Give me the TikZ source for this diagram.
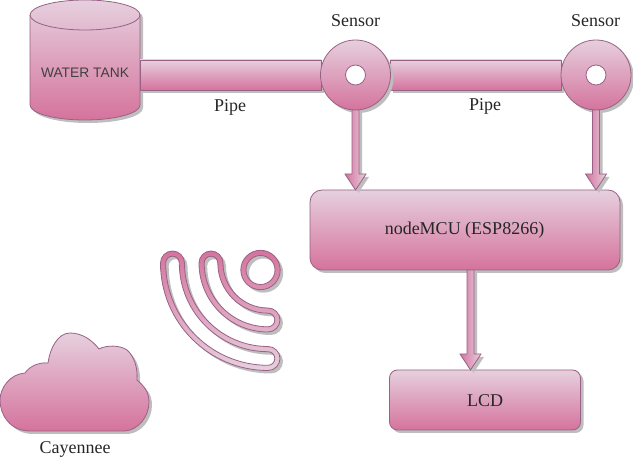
\documentclass[tikz,border=0pt]{standalone}
\usepackage{fontspec}
\setmainfont{Liberation Serif}
\newfontfamily\tanksans{Liberation Sans}
\usetikzlibrary{calc,shadows,shapes.geometric}
\definecolor{pinktop}{HTML}{E6D0DE}
\definecolor{pinkbot}{HTML}{D5739D}
\definecolor{pinkline}{HTML}{996185}
\definecolor{shadowgrey}{HTML}{BEBEBE}
\tikzset{
  x=1pt,y=1pt,
  pinkfill/.style={draw=pinkline,line width=0.8pt,top color=pinktop,bottom color=pinkbot},
  pinkflip/.style={draw=pinkline,line width=0.8pt,top color=pinkbot,bottom color=pinktop},
  pinkside/.style={draw=pinkline,line width=0.8pt,left color=pinkbot,right color=pinktop},
  sh/.style={drop shadow={shadow xshift=3pt,shadow yshift=-3pt,fill=shadowgrey,opacity=1}},
  shpath/.style={fill=shadowgrey,transform canvas={shift={(3pt,-3pt)}}},
  blockbox/.style={pinkfill,sh,rectangle,rounded corners=#1,inner sep=0pt,outer sep=0pt},
  pipebar/.style={pinkfill,sh,rectangle,inner sep=0pt,outer sep=0pt},
  sensorring/.style={pinkfill,sh,circle,minimum size=70pt,inner sep=0pt,outer sep=0pt},
  sensorhole/.style={circle,draw=pinkline,line width=0.8pt,fill=white,minimum size=20pt,inner sep=0pt,outer sep=0pt},
  lbl/.style={inner sep=0pt,font=\fontsize{18}{21}\selectfont,text=black!85},
}
\newcommand{\arrowpath}{($(A)+(-3.5,0)$) -- ($(B)+(-3.5,16)$) -- ($(B)+(-10.5,16)$) -- (B) -- ($(B)+(10.5,16)$) -- ($(B)+(3.5,16)$) -- ($(A)+(3.5,0)$) -- cycle}
\newcommand{\blockarrow}[2]{%
  \coordinate (A) at #1; \coordinate (B) at #2;
  \path[shpath] \arrowpath;
  \path[pinkside] \arrowpath;
}
\newcommand{\tube}[2]{% radius, half width
  (268-#1-#2,197) arc[start angle=180,end angle=270,radius=#1+#2]
  arc[start angle=270,end angle=450,radius=#2]
  arc[start angle=270,end angle=180,radius=#1-#2]
  arc[start angle=0,end angle=180,radius=#2] -- cycle
}
\newcommand{\signalpath}{%
  (260.5,190) circle[radius=19.7] (260.5,190) circle[radius=14.5]
  \tube{57}{12} \tube{57}{6.8}
  \tube{95.5}{12} \tube{95.5}{6.8}
}
\newcommand{\tankbody}{(30,445) -- (30,355) arc[start angle=180,end angle=360,x radius=55,y radius=15] -- (140,445) arc[start angle=0,end angle=180,x radius=55,y radius=15] -- cycle}
\newcommand{\cloudpath}{(30,29) .. controls (10,29) and (0,45) .. (0,60)
  .. controls (0,72) and (10,86) .. (25,87)
  .. controls (29,93) and (38,98) .. (48,97)
  .. controls (50,112) and (58,127) .. (70,127)
  .. controls (82,127) and (92,120) .. (99,111)
  .. controls (106,115) and (120,115) .. (127,110)
  .. controls (134,104) and (138,92) .. (137,80)
  .. controls (144,74) and (149,68) .. (149,58)
  .. controls (149,43) and (138,30) .. (125,29) -- cycle}
\begin{document}
\begin{tikzpicture}
\useasboundingbox (0,0) rectangle (633,460);
% tank
\path[shpath] \tankbody;
\path[pinkfill] \tankbody;
\draw[pinkline,line width=0.8pt] (30,445) arc[start angle=180,end angle=360,x radius=55,y radius=15];
\node[lbl,font=\tanksans\fontsize{13.8}{16}\selectfont,text=black!75] (tanklabel) at (85,387) {WATER TANK};
% pipes
\node[pipebar,minimum width=181pt,minimum height=30pt] (pipeA) at (230.5,385) {};
\node[pipebar,minimum width=171pt,minimum height=30pt] (pipeB) at (475.5,385) {};
% main boxes
\node[blockbox=12pt,minimum width=310pt,minimum height=80pt] (mcu) at (465,230) {};
\node[blockbox=8pt,minimum width=191pt,minimum height=60pt] (lcd) at (485,60) {};
\node[lbl] (mcutext) at (464.5,230) {nodeMCU (ESP8266)};
\node[lbl] (lcdtext) at (485,59) {LCD};
% sensors
\node[sensorring] (s1) at (355.5,385) {};
\node[sensorring] (s2) at (596,385) {};
\node[sensorhole] at (s1) {};
\node[sensorhole] at (s2) {};
% arrows
\blockarrow{(s1.south)}{(s1.south |- mcu.north)}
\blockarrow{(s2.south)}{(s2.south |- mcu.north)}
\coordinate (mcuout) at (470.5,190);
\blockarrow{(mcuout)}{(mcuout |- lcd.north)}
% labels
\node[lbl] (sens1) at (355.5,439) {Sensor};
\node[lbl] (sens2) at (595.5,439) {Sensor};
\node[lbl] (pipe1) at (230,353) {Pipe};
\node[lbl] (pipe2) at (485,354) {Pipe};
% signal
\path[shpath,even odd rule] \signalpath;
\path[pinkflip,even odd rule] \signalpath;
% cloud
\path[shpath] \cloudpath;
\path[pinkfill] \cloudpath;
\node[lbl] (cay) at (75,11) {Cayennee};
\end{tikzpicture}
\end{document}
